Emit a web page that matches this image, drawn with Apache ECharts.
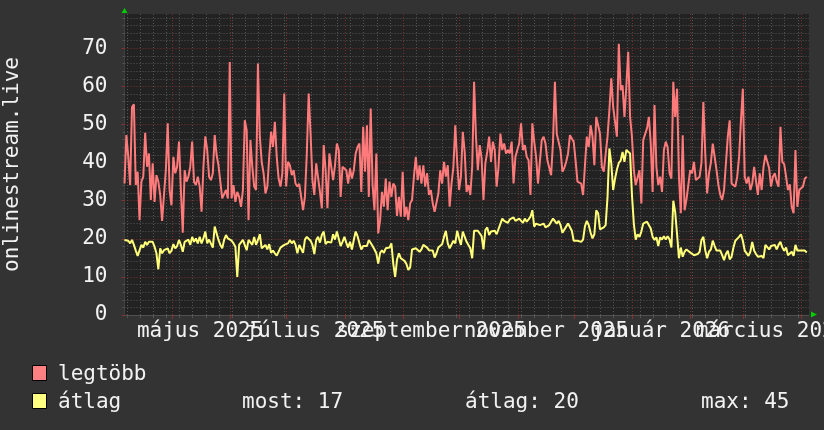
<!DOCTYPE html>
<html>
<head>
<meta charset="utf-8">
<script src="https://cdn.jsdelivr.net/npm/echarts@6/dist/echarts.min.js"></script>
<style>
html,body{margin:0;padding:0;background:#333333;}
#c{width:824px;height:430px;}
</style>
</head>
<body>
<div id="c"></div>
<script>
// ---- data (one value per day, starting 2025-04-05 18:00 UTC) ----
const startTime = Date.UTC(2025, 3, 5, 18);
const dayMs = 86400000;
const spanDays = 364.2;

const legtobbValues = [
34.5,47.2,41.5,34.1,54.6,55.3,34.1,37.6,24.9,35,
36.3,47.8,38.9,42.4,30.2,39.8,29.7,36.7,35,31.5,
24.7,31.5,38,50.3,32.8,28.8,41.5,37.2,38.9,45.5,
32.8,21.6,38,35,36.3,38.9,45.5,35,34.1,36.3,
33.7,27.1,38.9,46.9,43.3,36.3,35.4,37.2,47.2,42,
39.3,38.9,30.6,30.2,32.8,30.6,66.4,30.6,34.1,29.7,
32.3,31,28.4,32.8,51.1,48.5,24.9,45.9,38.9,33.7,
32.8,66,46.8,40.2,
37.2,31.9,33.7,41.5,48.1,44.1,50.7,41.5,35.8,33.7,
37.2,58.1,33.7,40.2,39.3,36.7,38,34.5,33.7,34.4,
31,27.5,31,42.4,58.1,47.6,35.4,31.5,39.8,40.2,
32.3,28,44.6,38,28,42.4,42.4,35.4,39.3,45,
43.3,31,38.9,39.3,38,34.5,38.5,35.8,38,42.4,
44.1,45,32.3,49.4,37.6,49.8,31,54.2,34.1,27.5,
42.4,21.4,24.9,32.3,28.4,35.8,27.5,35,31,34.5,33.7,26,
31,25.8,37.6,25.8,28.4,24.9,29.3,30.2,36.3,41.5,
35.4,39.3,34.5,39.3,33.7,37.2,31.5,32.8,29.3,27.1,
26.7,31.9,38,34.5,40.2,36.3,39.3,28.4,34.5,38.9,
49.8,40.2,32.8,36.3,48.1,42.8,32.3,34.1,31.5,38.9,
61.2,46.8,38,44.6,41.1,30.2,39.8,42.8,46.8,40.2,
45.5,43.3,33.7,38.9,47.6,43.3,45,42.4,43.3,42.4,
45.5,34.5,41.5,43.3,45,50.3,43.3,44.6,41.5,40.6,31.5,
50.3,45.5,41.5,34.5,34.5,45.9,46.8,45,40.6,41.1,
36.7,45.5,61.2,47.5,47.5,43.3,37.6,38.6,40.2,42.4,
47.2,47.5,45.5,40.6,35,35.4,34.5,31.5,39.3,46.8,
44.1,49.8,46.8,39.3,52,52.2,47.6,38.9,37.6,37.2,
46.8,53.8,62.1,54.6,55.1,46.8,71.2,59,60.3,52,
59.9,69.1,52,46.8,38,34.1,33.7,38,29.3,45.9,
45.9,49,52,45,32.3,55.1,38.9,34.1,36.3,32.3,43.3,45.5,
44,37.2,35.8,61.2,52,59.4,36.3,26.7,47.2,27.5,
30.3,30.8,38,37.2,40.2,35.4,35,36.3,40,55.9,
42.4,31.9,37.2,40,45,41.5,38,34.1,31.5,30.2,
32.8,39.8,46.8,51.1,34.5,34.5,33.7,36.3,41.5,51.1,
59.4,36.3,34.5,36.3,32.8,34.5,38.9,38.9,31.5,37.2,
32.8,38.9,42,42.4,38.5,33.7,36.3,37.2,35,33.7,
49.4,40.2,39.6,36.3,32.8,34.3,28.4,26.7,43.3,28.4,
32.8,33,33.7,35.8,36.3
];

const atlagValues = [
19.7,19.8,19.5,18.8,19.7,18.4,16.9,15.5,15.7,18.4,
17.7,19.2,18.4,19.2,18.8,19.2,17.9,16.2,12,17.5,
16.2,17,16.6,17.5,16.2,16.9,18.6,17.5,18.1,19.7,
18.4,16.6,19.2,18.8,19.8,18.4,20.5,19.2,20.1,18.8,
20.5,18.8,20.1,21.9,18.8,19.8,19.7,17.7,23.2,23.6,
19.7,18.4,17.5,19.7,21,20.1,19.8,19.5,18.8,17.9,
10,18.4,17.9,19.7,19.8,17,19.7,19.5,18.4,20.5,
18.4,19.7,21.2,17.5,
17,18.4,17.2,18.6,16.3,16.9,16.2,15.6,15.3,17.7,
17.5,18.4,18.8,18.8,19.7,18.8,19.5,18.4,16.2,18.4,
18.4,16.3,19.8,20.5,21,19.5,18.4,16,19.7,20.5,
19,21,21.9,18.6,19.2,18.8,19,21.2,19.8,21.9,
22.3,18.1,19.2,20.5,19,17.7,19.2,17.2,19.7,21.9,
20.7,18.8,17.2,18.1,18.6,18.1,19.7,19.7,18.1,17.2,
16.2,13.5,16.3,17,16.3,17.5,17.2,17.7,18.8,13.5,10,14.5,
16.2,14.9,14.6,14.2,13.4,11.8,12.5,17.2,17,17.5,
17.4,16.6,17.2,18.4,18.4,17.7,17,16.7,16.9,15.1,
16.2,17.7,17.2,18.6,20.5,22.1,18.8,17.5,17.9,19.5,
18.8,22.1,20.1,18.4,21.9,21.9,19.2,18.8,17.5,14.9,
22.1,22.3,22.1,21.6,20.7,17.2,22.3,23,21,21.9,
21.6,22.1,21.2,21,23.9,25.3,24.7,25.1,24.2,25.1,
24.7,25.6,24.7,24.2,25.3,25.6,24.2,25.3,24.5,25.1,25.8,
27.5,23.2,24,24,23.6,23.2,24,23,22.7,23.6,
23.6,25.3,25.6,24,24.7,23.6,21.6,21.9,23.2,24,
23.9,22.1,19.5,19.2,19.5,19.7,19.2,19.8,23.3,24.7,
23.6,21.6,20.1,21.2,27.5,26.7,22.5,23,23,23.6,
31,43.7,39.8,32.8,35.8,38.2,39.9,40.5,42.8,40.2,
43.3,43.3,42.4,31.5,24,19.8,21.2,20.5,21.9,24,
24,24.5,24.9,22.7,20.5,19.7,20.4,18.1,20.4,19.8,20.7,19.8,
20.7,19.8,17.7,30,27,21.2,14.9,17.7,15.3,16.6,
17.2,16.9,16.4,16.9,15.7,15.5,16,16.6,19.7,20.5,
17,14.9,16.6,17.2,19.5,18.1,16.9,16.9,16.9,15.7,
14.4,16,16.9,14.6,15.3,17.7,19.5,19.7,20.5,21.2,
19.5,16.9,16.4,15.5,16.6,19.2,16.9,16,15.3,15.5,
15.5,14.9,18.4,17.9,17.2,18.1,17.9,18.4,17.2,18.4,
19.2,17.7,16.9,17.7,15.7,15.5,16.6,15.5,18.4,16.9,
16.4,16.9,16.5,16.9,16.4
];

const seriesNames = ['legtöbb', 'átlag'];
const statLabels = ['most: 17', 'átlag: 20', 'max: 45'];
const yAxisTitle = 'onlinestream.live';
const yTickValues = [0, 10, 20, 30, 40, 50, 60, 70];
const monthLabels = [
  [2025, 4, 'május 2025'], [2025, 6, 'július 2025'], [2025, 8, 'szeptember 2025'],
  [2025, 10, 'november 2025'], [2026, 0, 'január 2026'], [2026, 2, 'március 2026']
];
const yMax = 79;

// ---- derived ----
const endTime = startTime + spanDays * dayMs;
const toPairs = arr => arr.map((v, i) => [startTime + i * dayMs, v]);

const monthStarts = [];
for (let m = 4; m <= 15; m++) monthStarts.push(Date.UTC(2025, m, 1));
const mondays = [];
for (let t = Date.UTC(2025, 3, 7); t < endTime; t += 7 * dayMs) mondays.push(t);
const labelPos = monthLabels.map(l => Date.UTC(l[0], l[1], 16));
const labelText = {};
monthLabels.forEach((l, i) => { labelText[labelPos[i]] = l[2]; });
// labels split into two alternating groups so they can overlap like the original
const labelPosA = labelPos.filter((p, i) => i % 2 === 0);
const labelPosB = labelPos.filter((p, i) => i % 2 === 1);
const yMinor = [];
for (let v = 2; v < yMax; v += 2) if (v % 10 !== 0) yMinor.push(v);

const FONT = '"DejaVu Sans Mono", monospace';
const TXT = '#f2f2f2';
const RED = '#ff7a7a';
const YEL = '#ffff7a';
const MINOR = '#555555';
const MAJOR = '#7a2e2e';

const chart = echarts.init(document.getElementById('c'), null, {renderer: 'canvas'});
const baseX = {type: 'value', min: startTime, max: endTime, gridIndex: 0, position: 'bottom', offset: 0};
const labelAxis = vals => Object.assign({}, baseX, {
  axisLine: {show: false},
  axisTick: {show: false, customValues: vals},
  axisLabel: {show: true, customValues: vals, margin: 6, color: TXT, fontFamily: FONT, fontSize: 21,
    showMinLabel: true, showMaxLabel: true, hideOverlap: false,
    formatter: v => labelText[v] || ''},
  splitLine: {show: false}
});
chart.setOption({
  backgroundColor: '#333333',
  animation: false,
  grid: {left: 124.5, right: 15, top: 14, bottom: 115, show: true, backgroundColor: '#222222', borderWidth: 0,
    containLabel: false, outerBoundsMode: 'none'},
  xAxis: [
    Object.assign({}, baseX, {
      axisLine: {show: true, lineStyle: {color: '#505050', width: 1}},
      axisTick: {show: false},
      axisLabel: {show: false},
      splitLine: {show: false}
    }),
    Object.assign({}, baseX, {
      axisLine: {show: false},
      axisTick: {show: true, customValues: mondays, length: 3, inside: false, lineStyle: {color: MINOR}},
      axisLabel: {show: false, customValues: mondays},
      splitLine: {show: true, lineStyle: {color: MINOR, type: [1, 2], width: 1}}
    }),
    Object.assign({}, baseX, {
      axisLine: {show: false},
      axisTick: {show: true, customValues: monthStarts, length: 4, lineStyle: {color: '#8a3030'}},
      axisLabel: {show: false, customValues: monthStarts},
      splitLine: {show: true, lineStyle: {color: MAJOR, type: [1, 2], width: 1}}
    }),
    labelAxis(labelPosA),
    labelAxis(labelPosB)
  ],
  yAxis: [
    {
      type: 'value', min: 0, max: yMax, position: 'left',
      name: yAxisTitle, nameLocation: 'middle', nameGap: 101, nameRotate: 90,
      nameTextStyle: {color: TXT, fontFamily: FONT, fontSize: 21},
      axisLine: {show: true, lineStyle: {color: '#404040'}},
      axisTick: {show: true, customValues: yTickValues, length: 3, lineStyle: {color: '#8a3030'}},
      axisLabel: {customValues: yTickValues, margin: 17, color: TXT, fontFamily: FONT, fontSize: 21},
      splitLine: {show: true, lineStyle: {color: MAJOR, type: [1, 2], width: 1}}
    },
    {
      type: 'value', min: 0, max: yMax, position: 'left', offset: 0,
      axisLine: {show: false},
      axisTick: {show: true, customValues: yMinor, length: 2, lineStyle: {color: MINOR}},
      axisLabel: {show: false, customValues: yMinor},
      splitLine: {show: true, lineStyle: {color: MINOR, type: [1, 2], width: 1}}
    }
  ],
  series: [
    {name: seriesNames[0], type: 'line', xAxisIndex: 0, yAxisIndex: 0, data: toPairs(legtobbValues),
      showSymbol: false, lineStyle: {color: RED, width: 2}, itemStyle: {color: RED}, z: 5},
    {name: seriesNames[1], type: 'line', xAxisIndex: 0, yAxisIndex: 0, data: toPairs(atlagValues),
      showSymbol: false, lineStyle: {color: YEL, width: 2}, itemStyle: {color: YEL}, z: 6}
  ],
  graphic: [
    {type: 'polygon', shape: {points: [[121.5, 13], [127.5, 13], [124.5, 8]]}, style: {fill: '#00cc00'}},
    {type: 'polygon', shape: {points: [[811, 311.5], [811, 317.5], [817, 314.5]]}, style: {fill: '#00cc00'}},
    {type: 'rect', shape: {x: 32.5, y: 365.5, width: 14, height: 15}, style: {fill: '#ff8080', stroke: '#000', lineWidth: 1}},
    {type: 'rect', shape: {x: 32.5, y: 393.5, width: 14, height: 15}, style: {fill: '#ffff80', stroke: '#000', lineWidth: 1}},
    {type: 'text', x: 58, y: 375, style: {text: seriesNames[0], font: '21px ' + FONT, fill: TXT, verticalAlign: 'middle'}},
    {type: 'text', x: 58, y: 403, style: {text: seriesNames[1], font: '21px ' + FONT, fill: TXT, verticalAlign: 'middle'}},
    {type: 'text', x: 242, y: 403, style: {text: statLabels[0], font: '21px ' + FONT, fill: TXT, verticalAlign: 'middle'}},
    {type: 'text', x: 465, y: 403, style: {text: statLabels[1], font: '21px ' + FONT, fill: TXT, verticalAlign: 'middle'}},
    {type: 'text', x: 701, y: 403, style: {text: statLabels[2], font: '21px ' + FONT, fill: TXT, verticalAlign: 'middle'}}
  ]
});
</script>
</body>
</html>
